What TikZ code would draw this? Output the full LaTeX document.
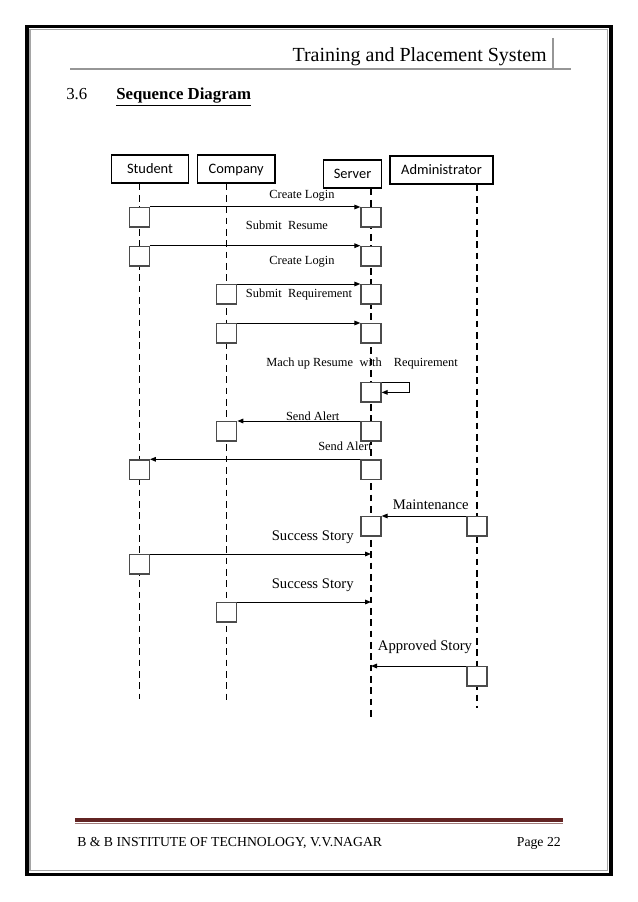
\documentclass[tikz,border=0pt]{standalone}
\usepackage{fontspec}
\setmainfont{Liberation Serif}
\newfontfamily\headfont{Carlito}
\usetikzlibrary{arrows.meta,positioning,calc}
\definecolor{framegray}{RGB}{165,165,165}
\definecolor{rulegray}{RGB}{150,150,150}
\definecolor{footred}{RGB}{98,36,35}
\definecolor{actgray}{RGB}{75,75,75}

\begin{document}
\begin{tikzpicture}[x=0.75pt,y=-0.75pt,
				head/.style={rectangle, draw, line width=0.9pt, minimum height=21pt, inner sep=0pt, text height=8.6pt, text depth=1.4pt, font=\headfont\fontsize{10.8}{12}\selectfont},
				act/.style={rectangle, draw=actgray, fill=white, line width=1pt, minimum width=15pt, minimum height=14.6pt, inner sep=0pt, anchor=north},
				life/.style={line width=1.1pt, dash pattern=on 5pt off 3.5pt},
				msg/.style={-{Triangle[length=4.5pt,width=3.5pt]}, line width=0.75pt},
				lbl/.style={inner sep=0pt, font=\fontsize{9.3}{11}\selectfont},
				biglbl/.style={inner sep=0pt, font=\fontsize{11}{13}\selectfont}
				]
				\fill[white] (0,0) rectangle (638,902);
				\useasboundingbox (0,0) rectangle (638,902);
				
				% Page frame
				\draw[line width=2.8pt] (27,26.5) rectangle (611.3,874.5);
				\draw[framegray, line width=0.8pt] (30,29.5) rectangle (607.8,870.8);
				
				% Header
				\node[anchor=base east, inner sep=0pt, font=\fontsize{15}{18}\selectfont] (title) at (547,62) {Training and Placement System};
				\draw[rulegray, line width=1.5pt] (70,69.5) -- (571,69.5);
				\draw[rulegray, line width=1.5pt] (553.3,38) -- (553.3,69.5);
				\node[anchor=base west, inner sep=0pt, font=\fontsize{12.6}{15}\selectfont] (secno) at (66,100) {3.6};
				\node[anchor=base west, inner sep=0pt, font=\fontsize{12.6}{15}\selectfont\bfseries] (sectitle) at (116,100) {\underline{Sequence Diagram}};
				
				% Lifeline heads
				\node[head, minimum width=57.5pt] (student) at (150,169) {Student};
				\node[head, minimum width=58.3pt] (company) at (236.2,169) {Company};
				\node[head, minimum width=43.8pt] (server) at (352.5,174) {Server};
				\node[head, minimum width=77.3pt] (admin) at (441.5,170) {Administrator};
				
				% Lifelines
				\coordinate (s end) at (139.3,699);
				\coordinate (c end) at (226.7,700);
				\coordinate (v end) at (371,718);
				\coordinate (a end) at (477,708);
				\draw[life, line width=0.8pt] (student.south -| s end) -- (s end);
				\draw[life] (company.south -| c end) -- (c end);
				\draw[life] (server.south -| v end) -- (v end);
				\draw[life] (admin.south -| a end) -- (a end);
				
				% Activations
				\node[act] (s1) at (139.3,207) {};
				\node[act] (v1) at (371,207) {};
				\node[act] (s2) at (139.3,245.7) {};
				\node[act] (v2) at (371,245.7) {};
				\node[act] (c3) at (226.7,284) {};
				\node[act] (v3) at (371,284) {};
				\node[act] (c4) at (226.7,323) {};
				\node[act] (v4) at (371,323) {};
				\node[act] (v5) at (371,382) {};
				\node[act] (c6) at (226.7,421) {};
				\node[act] (v6) at (371,421) {};
				\node[act] (s7) at (139.3,459.3) {};
				\node[act] (v7) at (371,459.3) {};
				\node[act] (v8) at (371,516) {};
				\node[act] (a8) at (477,516) {};
				\node[act] (s9) at (139.3,554) {};
				\node[act] (c10) at (226.7,602) {};
				\node[act] (a11) at (477,666) {};
				
				% Messages
				\draw[msg] (s1.north east) -- (v1.north west);
				\draw[msg] (s2.north east) -- (v2.north west);
				\draw[msg] (c3.north east) -- (v3.north west);
				\draw[msg] (c4.north east) -- (v4.north west);
				\draw[msg] (v5.north east) -- ++(28,0) |- (v5.east);
				\draw[msg] (v6.north west) -- (c6.north east);
				\draw[msg] (v7.north west) -- (s7.north east);
				\draw[msg] (a8.north west) -- (v8.north east);
				\draw[msg] (s9.north east) -- (s9.north east -| v end);
				\draw[msg] (c10.north east) -- (c10.north east -| v end);
				\draw[msg] (a11.north west) -- (a11.north west -| v end);
				
				% Message labels
				\node[lbl, anchor=base] (m1) at (302,199) {Create Login};
				\node[lbl, anchor=base west] (m2) at (245.7,229.3) {Submit\ \ Resume};
				\node[lbl, anchor=base] (m3) at (302,264) {Create Login};
				\node[lbl, anchor=base west] (m4) at (245.7,297.7) {Submit\ \ Requirement};
				\node[lbl, anchor=base west] (m5) at (266,366.3) {Mach up Resume\hspace{5pt}with\hspace{9pt}Requirement};
				\node[lbl, anchor=base] (m6) at (312.7,420.5) {Send Alert};
				\node[lbl, anchor=base] (m7) at (345,450) {Send Alert};
				\node[biglbl, anchor=base] (m8) at (430.7,509) {Maintenance};
				\node[biglbl, anchor=base] (m9) at (312.7,540.5) {Success Story};
				\node[biglbl, anchor=base] (m10) at (312.7,588) {Success Story};
				\node[biglbl, anchor=base] (m11) at (425,650) {Approved Story};
				
				% Footer
				\draw[footred, line width=2.7pt] (75,820) -- (563,820);
				\draw[footred!60, line width=0.7pt] (75,823) -- (563,823);
				\node[anchor=base west, inner sep=0pt, font=\fontsize{10.3}{12}\selectfont] (inst) at (77,846) {B \& B INSTITUTE OF TECHNOLOGY, V.V.NAGAR};
				\node[anchor=base east, inner sep=0pt, font=\fontsize{10.3}{12}\selectfont] (page) at (561,846) {Page 22};
			\end{tikzpicture}
\end{document}
